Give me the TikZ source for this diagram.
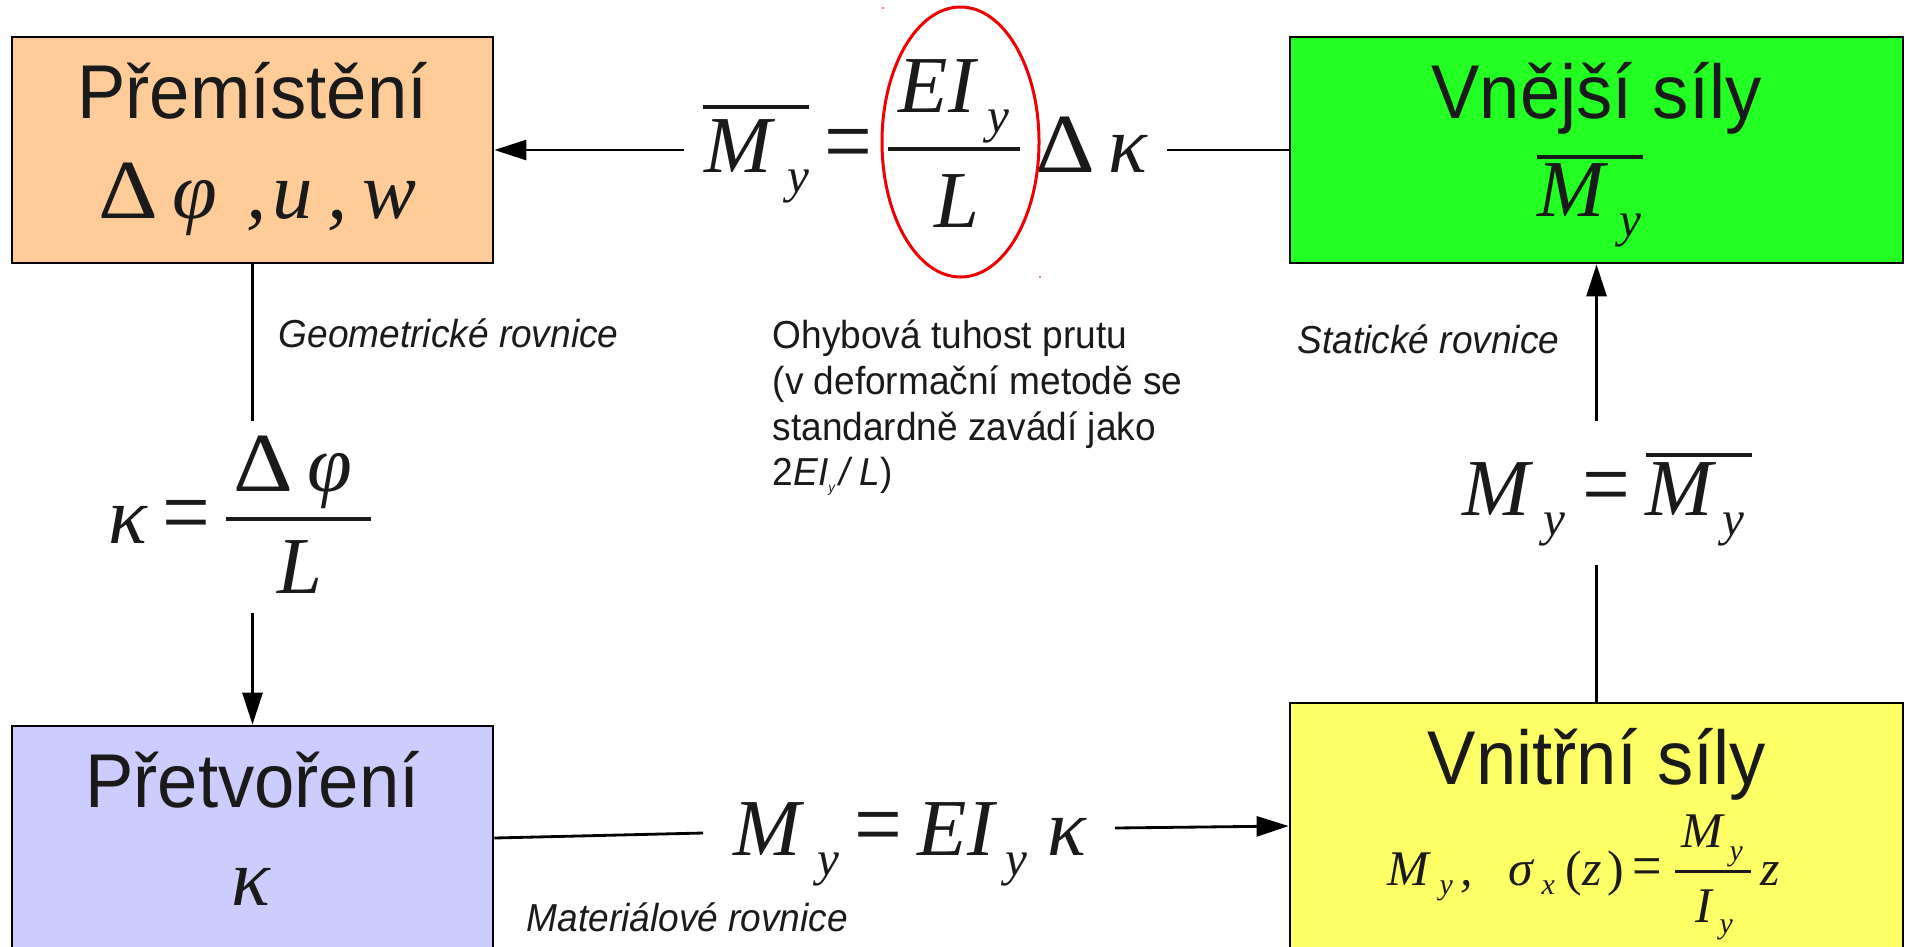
\documentclass[tikz,border=0pt]{standalone}
\usepackage{fontspec}
\usepackage{graphicx}
\usetikzlibrary{arrows.meta}
\newfontfamily\labfont{Liberation Sans}[FakeStretch=0.95]
\newfontfamily\formfont{Liberation Serif}
\definecolor{ink}{HTML}{1A1A1A}
\definecolor{dispfill}{HTML}{FFCC99}
\definecolor{extfill}{RGB}{35,255,35}
\definecolor{strainfill}{HTML}{CCCCFF}
\definecolor{innerfill}{HTML}{FFFF66}
\definecolor{ringred}{RGB}{240,0,0}
% a heavier equals sign and a wider delta for the formulas
\newcommand\eqsign{\raisebox{-0.03em}{\scalebox{1.05}[1.22]{=}}}
\newcommand\bigdelta{\scalebox{1.15}[1.04]{Δ}}
\tikzset{
  box/.style={draw=black, line width=0.8pt, inner sep=0pt},
  ttl/.style={font=\labfont\fontsize{21.7}{26}\selectfont, text=ink, inner sep=0pt, anchor=base},
  lbl/.style={font=\labfont\itshape\fontsize{11.1}{13.4}\selectfont, text=ink, inner sep=0pt, anchor=base west},
  note/.style={font=\labfont\fontsize{11.1}{13.4}\selectfont, text=ink, inner sep=0pt, anchor=base west},
  fm/.style={font=\formfont\itshape\fontsize{23}{23}\selectfont, text=ink, inner sep=0pt, anchor=base west},
  fmup/.style={font=\formfont\upshape\fontsize{23}{23}\selectfont, text=ink, inner sep=0pt, anchor=base west},
  fs/.style={font=\formfont\itshape\fontsize{14}{14}\selectfont, text=ink, inner sep=0pt, anchor=base west},
  fmb/.style={font=\formfont\itshape\fontsize{14.2}{14.2}\selectfont, text=ink, inner sep=0pt, anchor=base west},
  fmbup/.style={font=\formfont\upshape\fontsize{14.2}{14.2}\selectfont, text=ink, inner sep=0pt, anchor=base west},
  fsb/.style={font=\formfont\itshape\fontsize{8.5}{8.5}\selectfont, text=ink, inner sep=0pt, anchor=base west},
  rulebar/.style={draw=ink, line width=0.4mm},
  wire/.style={line width=0.8pt},
  arr/.style={wire, -{Triangle[length=3.2mm,width=2mm]}},
}
\begin{document}
\begin{tikzpicture}[x=0.1mm, y=-0.1mm]
\useasboundingbox (0,0) rectangle (1910,946);
\fill[white] (0,0) rectangle (1910,946);

% the four state boxes
\node[box, fill=dispfill, minimum width=48.1mm, minimum height=22.6mm] (disp) at (252.5,150) {};
\node[box, fill=extfill, minimum width=61.3mm, minimum height=22.6mm] (ext) at (1596.5,150) {};
\node[box, fill=strainfill, minimum width=48.1mm, minimum height=23.4mm] (strain) at (252.5,843) {};
\node[box, fill=innerfill, minimum width=61.3mm, minimum height=25.7mm] (inner) at (1596.5,831.5) {};

% box titles
\node[ttl] (dispT) at (252.5,118) {Přemístění};
\node[ttl] (extT) at (1596.5,118) {Vnější síly};
\node[ttl] (strainT) at (252.5,807) {Přetvoření};
\node[ttl] (innerT) at (1597,784) {Vnitřní síly};

% displacement quantities
\node[fmup] (dD) at (98,218) {\bigdelta};
\node[fm] (dphi) at (172,218) {φ};
\node[fm] (dc1) at (246,218) {,};
\node[fm] (du) at (272,218) {u};
\node[fm] (dc2) at (327,218) {,};
\node[fm] (dw) at (362,218) {w};

% external moment
\node[fm] (eM) at (1537,216) {M};
\node[fs] (ey) at (1619,236) {y};
\draw[rulebar] (1537,157) -- (1643,157);

% curvature
\node[fm] (sk) at (231,905) {κ};

% internal forces and stress
\node[fmb] (iM) at (1387,885) {M};
\node[fsb] (iy) at (1439,894) {y};
\node[fmb] (ic) at (1460,885) {,};
\node[fmb] (isig) at (1508,885) {σ};
\node[fsb] (ix) at (1541,894) {x};
\node[fmbup] (ip1) at (1565,885) {(};
\node[fmb] (iz) at (1582,885) {z};
\node[fmbup] (ip2) at (1607,885) {)};
\node[fmbup] (ieq) at (1632,885) {\eqsign};
\draw[draw=ink, line width=0.3mm] (1675,871) -- (1751,871);
\node[fmb] (inM) at (1681,847) {M};
\node[fsb] (iny) at (1729,860) {y};
\node[fmb] (idI) at (1695,922) {I};
\node[fsb] (idy) at (1719,933) {y};
\node[fmb] (iz2) at (1760,885) {z};

% stiffness relation on the top connector
\node[fm] (tM) at (704,172) {M};
\node[fs] (ty) at (787,192) {y};
\draw[rulebar] (703,107) -- (809,107);
\node[fmup] (teq) at (824,172) {\eqsign};
\draw[rulebar] (888,149) -- (1020,149);
\node[fm] (tEI) at (898,112) {EI};
\node[fs] (tEy) at (987,132) {y};
\node[fm] (tL) at (934,227) {L};
\node[fmup] (tD) at (1035,172) {\bigdelta};
\node[fm] (tk) at (1108,172) {κ};
\draw[ringred, line width=0.3mm] (960.5,142) ellipse [x radius=7.85mm, y radius=13.5mm];
\fill[ringred!50] (882,7) rectangle (884,9);
\fill[ringred!50] (1039,276) rectangle (1041,278);

% geometric relation
\node[fm] (gk) at (108,543) {κ};
\node[fmup] (geq) at (162,543) {\eqsign};
\draw[rulebar] (226,519) -- (371,519);
\node[fmup] (gD) at (233,491) {\bigdelta};
\node[fm] (gphi) at (307,491) {φ};
\node[fm] (gL) at (277,593) {L};

% equilibrium relation
\node[fm] (qM) at (1462,515) {M};
\node[fs] (qy) at (1543,535) {y};
\node[fmup] (qeq) at (1582,515) {\eqsign};
\node[fm] (qM2) at (1645,515) {M};
\node[fs] (qy2) at (1722,535) {y};
\draw[rulebar] (1646,455) -- (1752,455);

% constitutive relation
\node[fm] (mM) at (733,855) {M};
\node[fs] (my) at (817,875) {y};
\node[fmup] (meq) at (854,855) {\eqsign};
\node[fm] (mEI) at (917,855) {EI};
\node[fs] (mEy) at (1005,875) {y};
\node[fm] (mk) at (1047,855) {κ};

% captions
\node[lbl] (geoL) at (278,347) {Geometrické rovnice};
\node[lbl] (statL) at (1297,353) {Statické rovnice};
\node[lbl] (matL) at (526,931) {Materiálové rovnice};
\node[note] (ohyb1) at (772,348) {Ohybová tuhost prutu};
\node[note] (ohyb2) at (772,394) {(v deformační metodě se};
\node[note] (ohyb3) at (772,440) {standardně zavádí jako};
\node[note] (ohyb4) at (772,485) {2\textit{EI}\raisebox{-0.7mm}{\fontsize{4}{4}\selectfont\itshape y}\kern0.4mm\textit{/ L})};

% connectors
\coordinate (tl) at (684,150);
\coordinate (tr) at (1167,150);
\draw[arr] (tl) -- (disp.east |- tl);
\draw[wire] (tr) -- (ext.west |- tr);

\coordinate (lu) at (252.5,421);
\coordinate (ld) at (252.5,613);
\draw[wire] (disp.south) -- (lu);
\draw[arr] (ld) -- (strain.north);

\coordinate (ru) at (1596.5,421);
\coordinate (rd) at (1596.5,565);
\draw[wire] (inner.north) -- (rd);
\draw[arr] (ru) -- (ext.south);

\coordinate (bl) at (703,833);
\coordinate (br) at (1115,828);
\draw[wire] ([yshift=0.5mm]strain.east) -- (bl);
\draw[arr] (br) -- ([yshift=0.55mm]inner.west);
\end{tikzpicture}
\end{document}
